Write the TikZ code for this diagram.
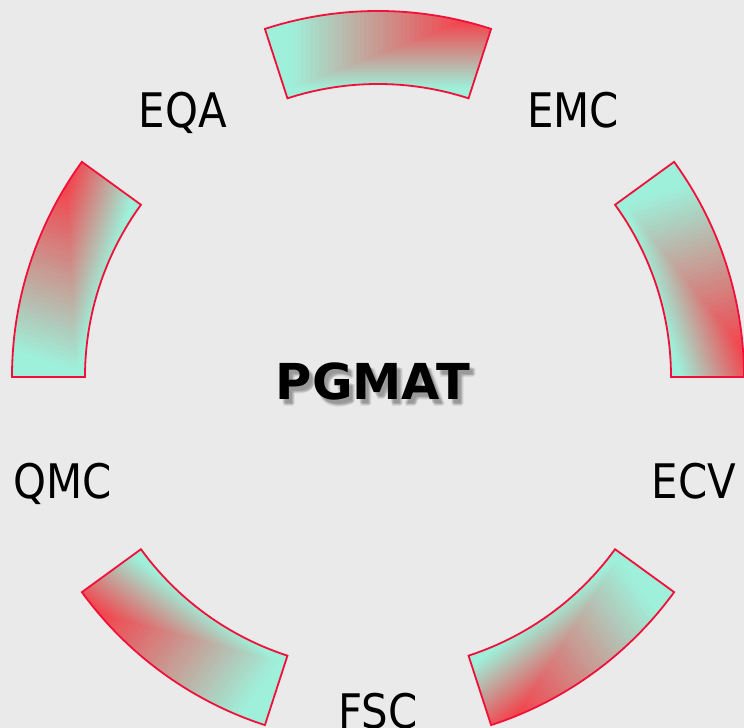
\documentclass[tikz,border=0pt]{standalone}
\usepackage{fontspec}
\setmainfont{DejaVu Sans}
\newfontfamily\labfont[FakeStretch=0.88]{DejaVu Sans}
\newfontfamily\titlefont{DejaVu Sans}
\definecolor{bg}{HTML}{EAEAEA}
\definecolor{mint}{HTML}{9EF0DA}
\definecolor{segred}{HTML}{F83A44}
\definecolor{edge}{HTML}{F0103A}
\tikzset{
  lab/.style={font=\labfont\fontsize{47.6bp}{50bp}\selectfont, text height=34.7bp, text depth=0pt, inner sep=0pt, yshift=-2bp},
  ttl/.style={font=\titlefont\bfseries\fontsize{49.5bp}{52bp}\selectfont, text height=36bp, text depth=0pt, inner sep=0pt},
  segedge/.style={draw=edge, line width=1.8bp, line join=miter},
}
\begin{document}
\begin{tikzpicture}[x=1bp,y=1bp]
\fill[bg] (-378,-351) rectangle (366,377);
\useasboundingbox (-378,-351) rectangle (366,377);
\coordinate (c) at (0,0);
\foreach \a in {0,-72,-144,144,72}{
  \begin{scope}[rotate=\a]
    \begin{scope}
      \clip (72:366) arc[start angle=72,end angle=108,radius=366] -- (108:293) arc[start angle=108,end angle=72,radius=293] -- cycle;
      \fill[mint] (-120,270) rectangle (120,370);
      \foreach \i in {50,49,...,1}{
        \pgfmathsetmacro\t{\i/50}
        \pgfmathsetmacro\rf{min(100,max(0,100*(1.12-1.25*\t)))}
        \fill[segred!\rf!mint] (118,371) rectangle ({113.1-\t*226.2},{366-\t*87.3});
      }
    \end{scope}
    \draw[segedge] (72:366) arc[start angle=72,end angle=108,radius=366] -- (108:293) arc[start angle=108,end angle=72,radius=293] -- cycle;
  \end{scope}
}
\node[lab] (emc) at (54:332) {EMC};
\node[lab] (ecv) at (-18:332) {ECV};
\node[lab] (fsc) at (-90:332) {FSC};
\node[lab] (qmc) at (198:332) {QMC};
\node[lab] (eqa) at (126:332) {EQA};
\foreach \dx/\dy [count=\k] in {3/-4,5/-6,4/-5,6/-5,4/-7}{
  \node[ttl, text=black, text opacity=0.08] (sh\k) at (-5+\dx,-5+\dy) {PGMAT};
}
\node[ttl] (pgmat) at (-5,-5) {PGMAT};
\end{tikzpicture}
\end{document}
